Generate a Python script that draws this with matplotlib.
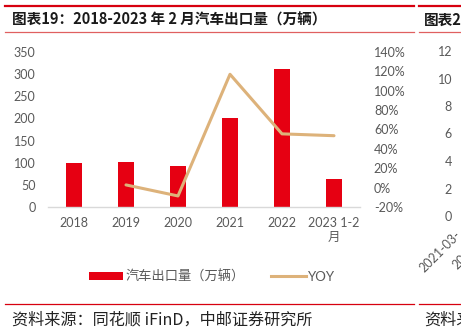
import matplotlib
matplotlib.use("Agg")
import matplotlib.pyplot as plt
from matplotlib.lines import Line2D
from matplotlib.patches import Patch
from matplotlib.ticker import FuncFormatter

plt.rcParams['font.family'] = ['Lato', 'Noto Sans CJK SC', 'DejaVu Sans']

categories = ['2018', '2019', '2020', '2021', '2022', '2023 1-2\n月']
exports = [100, 102, 93, 200, 311, 64]
yoy = [None, 0.028, -0.086, 1.17, 0.555, 0.536]
left_ticks = [0, 50, 100, 150, 200, 250, 300, 350]
right_ticks = [-0.2, 0, 0.2, 0.4, 0.6, 0.8, 1.0, 1.2, 1.4]
title = '图表19：2018-2023 年 2 月汽车出口量（万辆）'
source = '资料来源：同花顺 iFinD，中邮证券研究所'
bar_label = '汽车出口量（万辆）'
line_label = 'YOY'
neighbor_ticks = [0, 2, 4, 6, 8, 10, 12]

W, H = 461, 332
fig = plt.figure(figsize=(W / 100, H / 100), dpi=100)

def fx(px):
    return px / W

def fy(py):
    return 1 - py / H

red = '#E60012'
tan = '#DDB27A'
gray = '#595959'

ax = fig.add_axes([fx(48), fy(207), fx(360 - 48), (207 - 52) / H])
x = list(range(len(categories)))
ax.bar(x, exports, width=0.3, color=red, zorder=2)
ax.set_xlim(-0.5, len(categories) - 0.5)
ax.set_ylim(0, 350)
ax.set_yticks(left_ticks)
ax.set_xticks(x)
ax.set_xticklabels(categories, fontsize=9, color=gray)
ax.tick_params(axis='both', length=0, labelsize=9, colors=gray)
ax.tick_params(axis='x', pad=7)
ax.tick_params(axis='y', pad=9)
for s in ['top', 'left', 'right']:
    ax.spines[s].set_visible(False)
ax.spines['bottom'].set_color('#D9D9D9')
ax.spines['bottom'].set_linewidth(1.0)

ax2 = ax.twinx()
xs = [i for i, v in zip(x, yoy) if v is not None]
ys = [v for v in yoy if v is not None]
ax2.plot(xs, ys, color=tan, linewidth=2.2, solid_capstyle='round', zorder=3)
ax2.set_ylim(-0.2, 1.4)
ax2.set_yticks(right_ticks)
ax2.yaxis.set_major_formatter(FuncFormatter(lambda v, p: f'{round(v * 100):.0f}%'))
ax2.tick_params(axis='y', length=0, labelsize=9, colors=gray, pad=10)
for s in ['top', 'left', 'right', 'bottom']:
    ax2.spines[s].set_visible(False)

# legend
handles = [Patch(facecolor=red, edgecolor='none'),
           Line2D([0], [0], color=tan, linewidth=2.2)]
leg = fig.legend(handles, [bar_label, line_label], loc='center',
                 bbox_to_anchor=(fx(212), fy(276)), ncol=2, frameon=False,
                 fontsize=9.5, handlelength=2.6, handleheight=0.6,
                 columnspacing=2.0, handletextpad=0.2)
for t in leg.get_texts():
    t.set_color(gray)

# header/footer lines
for (x0, x1) in [(5, 414), (419, 461)]:
    fig.add_artist(Line2D([fx(x0), fx(x1)], [fy(6), fy(6)], color='#D7000F', linewidth=1.6))
    fig.add_artist(Line2D([fx(x0), fx(x1)], [fy(32), fy(32)], color='#E06060', linewidth=0.9))
    fig.add_artist(Line2D([fx(x0), fx(x1)], [fy(304), fy(304)], color='#D7000F', linewidth=0.9))

fig.text(fx(12), fy(20), title, fontsize=10.5, fontweight='bold', color='#1a1a1a',
         va='center', ha='left', family=['Noto Sans CJK SC', 'DejaVu Sans'])
fig.text(fx(424), fy(20), '图表2', fontsize=10.5, fontweight='bold', color='#1a1a1a',
         va='center', ha='left', family=['Noto Sans CJK SC', 'DejaVu Sans'])
fig.text(fx(12), fy(320), source, fontsize=11.6, color='#222222',
         va='center', ha='left', family=['Noto Sans CJK SC', 'DejaVu Sans'])
fig.text(fx(424), fy(320), '资料来', fontsize=11.6, color='#222222',
         va='center', ha='left', family=['Noto Sans CJK SC', 'DejaVu Sans'])

# neighbouring chart fragments
for i, v in enumerate(neighbor_ticks):
    ypx = 217 - i * 27.5
    fig.text(fx(452), fy(ypx), str(v), fontsize=9, color=gray, ha='right', va='center')
fig.text(fx(440), fy(252), '2021-03-', fontsize=9, color=gray, rotation=45,
         ha='center', va='center')
fig.text(fx(460), fy(262), '20', fontsize=9, color=gray, rotation=45,
         ha='center', va='center')

fig.savefig('out.png', dpi=100)
